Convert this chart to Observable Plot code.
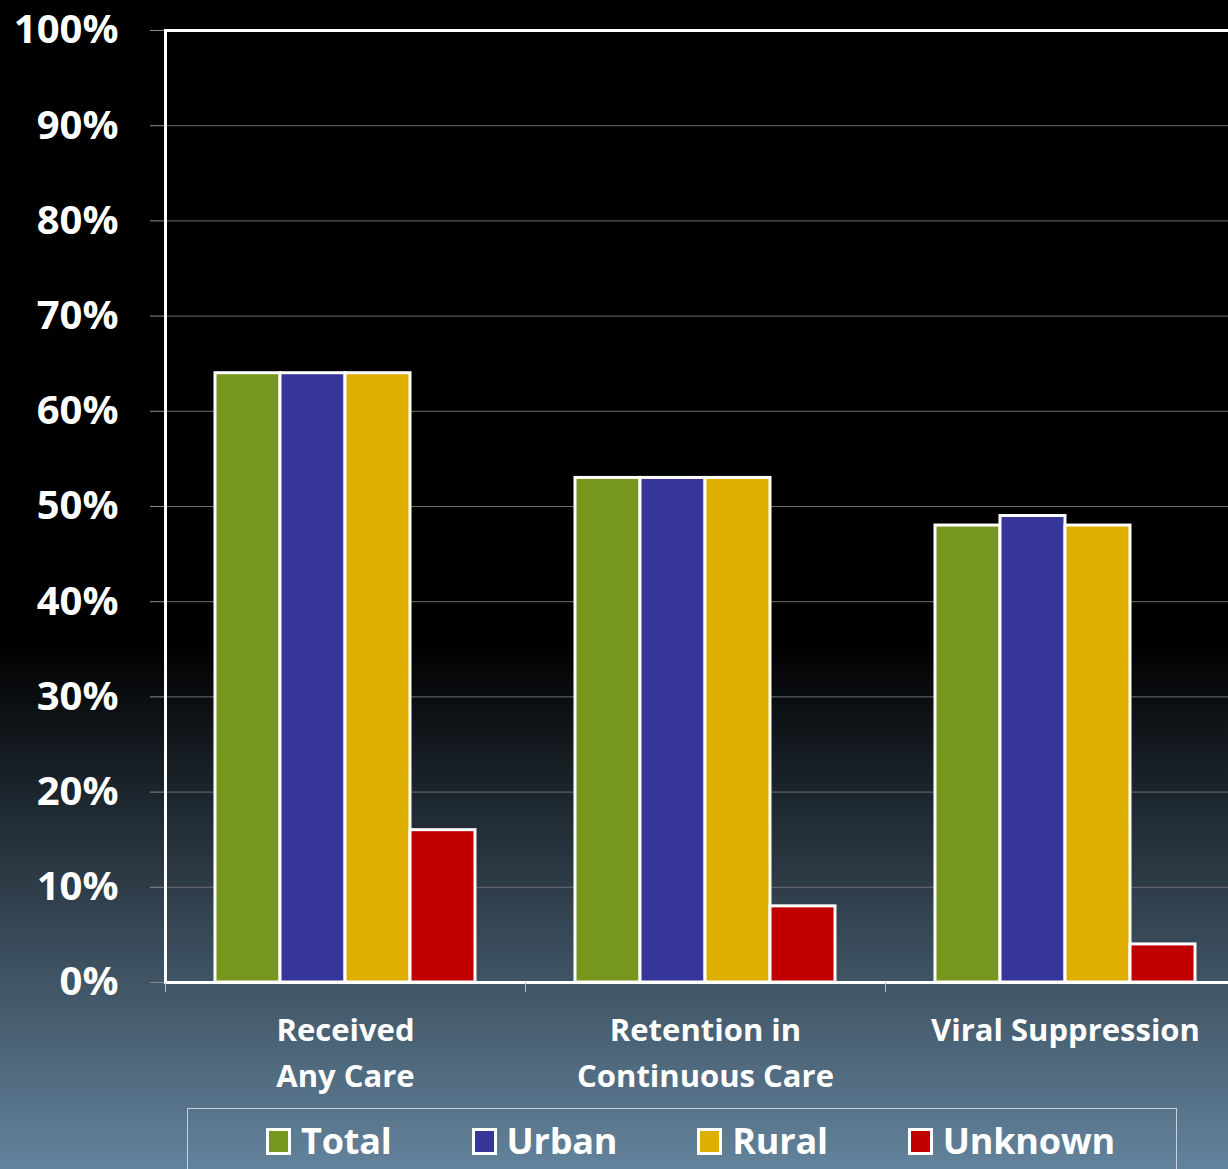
<!DOCTYPE html>
<html>
<head>
<meta charset="utf-8">
<script src="https://cdn.jsdelivr.net/npm/d3@7"></script>
<script src="https://cdn.jsdelivr.net/npm/@observablehq/plot@0.6"></script>
<style>
html, body { margin: 0; padding: 0; }
body {
  width: 1228px; height: 1169px; overflow: hidden; position: relative;
  background: linear-gradient(to bottom, #000 0%, #000 55%, #63839c 100%);
  font-family: "Open Sans", sans-serif;
}
#chart { position: absolute; left: 0; top: 0; width: 1228px; height: 1108px; overflow: hidden; }
#legend {
  position: absolute; left: 187px; top: 1108px; width: 990px; height: 70px;
  border: 1px solid #c9d2da; box-sizing: border-box;
  display: flex; align-items: flex-start; padding-left: 78px; padding-top: 12px; gap: 80px;
}
.item { display: flex; align-items: center; color: white; font-weight: bold; font-size: 36px; line-height: 40px; letter-spacing: -0.2px; }
.sw { width: 19px; height: 21px; border: 3px solid white; margin-right: 10px; }
</style>
</head>
<body>
<div id="chart"></div>
<div id="legend"></div>
<script>
const categories = ["Received\nAny Care", "Retention in\nContinuous Care", "Viral Suppression"];
const series = ["Total", "Urban", "Rural", "Unknown"];
const total = [64, 53, 48];
const urban = [64, 53, 49];
const rural = [64, 53, 48];
const unknown = [16, 8, 4];
const yTicks = [0, 10, 20, 30, 40, 50, 60, 70, 80, 90, 100];
const colors = ["#76961e", "#36369a", "#dfaf00", "#c00000"];

const valuesBySeries = [total, urban, rural, unknown];
const data = categories.flatMap((c, i) =>
  series.map((s, j) => ({ category: c, series: s, value: valuesBySeries[j][i] }))
);

const chart = Plot.plot({
  width: 1228,
  height: 1108,
  marginLeft: 165,
  marginTop: 30,
  marginBottom: 126,
  marginRight: -17,
  style: { background: "transparent", color: "white", fontFamily: "Open Sans, sans-serif" },
  fx: { domain: categories, padding: 0, label: null, axis: null },
  x: { domain: series, paddingInner: 0, paddingOuter: 0.73, axis: null },
  y: { domain: [0, 100], label: null },
  color: { domain: series, range: colors },
  marks: [
    Plot.gridY(yTicks, { stroke: "#6e6e6e", strokeOpacity: 1, strokeWidth: 1 }),
    Plot.axisY(yTicks, {
      tickSize: 15, tickPadding: 32, tickFormat: d => d + "%",
      fontSize: 40, fontWeight: "bold", stroke: "#8a8a8a", fill: "white", label: null
    }),
    Plot.barY(data, { fx: "category", x: "series", y: "value", fill: "series", stroke: "white", strokeWidth: 3 }),
    Plot.frame({ facet: "super", stroke: "white", strokeWidth: 3 }),
    Plot.axisFx({ anchor: "bottom", tickSize: 0, tickPadding: 26, fontSize: 31, fontWeight: "bold", lineHeight: 1.48, fill: "white", label: null }),
    Plot.axisFx({ anchor: "bottom", tickSize: 10, dx: -180, fill: "none", stroke: "#b8c0c8", label: null })
  ]
});
document.getElementById("chart").appendChild(chart);

const legend = document.getElementById("legend");
series.forEach((s, i) => {
  const item = document.createElement("div");
  item.className = "item";
  const sw = document.createElement("span");
  sw.className = "sw";
  sw.style.background = colors[i];
  item.appendChild(sw);
  item.appendChild(document.createTextNode(s));
  legend.appendChild(item);
});
</script>
</body>
</html>
